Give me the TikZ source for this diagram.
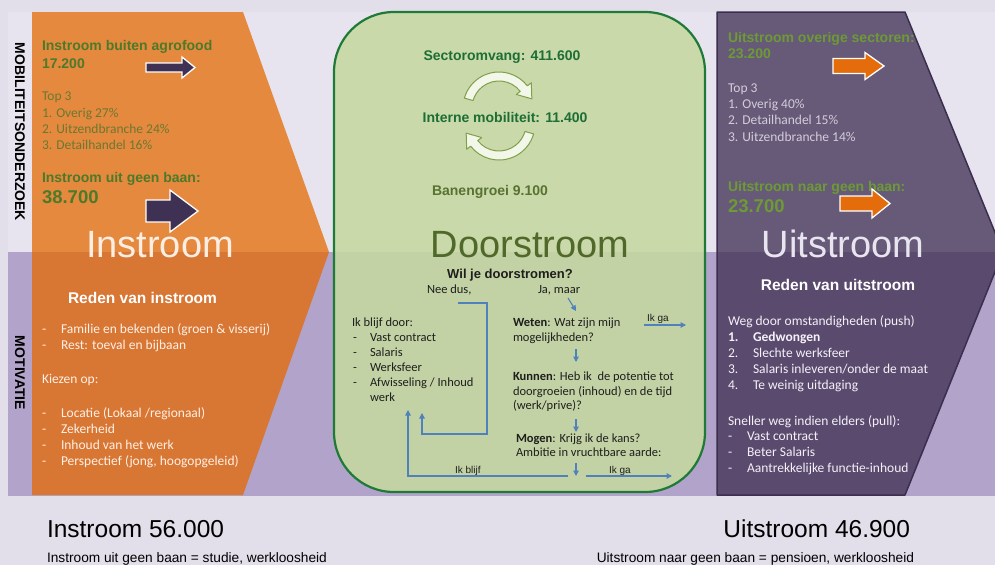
\documentclass[tikz,border=0pt]{standalone}
\usepackage{fontspec}
\setmainfont{Carlito}
\newfontfamily\arialfont{Liberation Sans}
\usetikzlibrary{arrows.meta,calc}

\definecolor{pagebg}{HTML}{E2DEEA}
\definecolor{upperband}{HTML}{E7E4EF}
\definecolor{lowerband}{HTML}{B1A3C9}
\definecolor{orangeup}{HTML}{E5893F}
\definecolor{orangelow}{HTML}{D87634}
\definecolor{greenfillup}{HTML}{C9D9AA}
\definecolor{greenfilllow}{HTML}{C3D2A4}
\definecolor{greenborder}{HTML}{1F7A37}
\definecolor{purpleup}{HTML}{665A78}
\definecolor{purplelow}{HTML}{5A4A6E}
\definecolor{purpleborder}{HTML}{3B2E4F}
\definecolor{arrowpurple}{HTML}{3F3153}
\definecolor{arroworange}{HTML}{E46C0A}
\definecolor{headgreen}{HTML}{4C7A29}
\definecolor{listolive}{HTML}{6A7830}
\definecolor{brightgreen}{HTML}{6D9A34}
\definecolor{paletext}{HTML}{D3CDDB}
\definecolor{darkgreen}{HTML}{1D6E35}
\definecolor{olivetext}{HTML}{50692A}
\definecolor{growthtext}{HTML}{587232}
\definecolor{flowblue}{HTML}{4F81BD}
\definecolor{flowink}{HTML}{1E1E1E}
\definecolor{turnedge}{HTML}{7FA048}
\definecolor{turnfill}{HTML}{F3F7EA}
\definecolor{warmwhite}{HTML}{FFF1E6}
\definecolor{coolwhite}{HTML}{F4F1F8}
\definecolor{bigwarm}{HTML}{FCEEE3}
\definecolor{bigcool}{HTML}{E9E5F0}

\begin{document}
\begin{tikzpicture}[x=1pt,y=-1pt,
  every node/.style={inner sep=0pt, outer sep=0pt},
  hd/.style={anchor=base west, font=\arialfont\bfseries\fontsize{14}{16}\selectfont},
  hdbig/.style={anchor=base west, font=\arialfont\bfseries\fontsize{18.5}{21}\selectfont},
  body/.style={anchor=base west, font=\fontsize{13.5}{16}\selectfont},
  flowtxt/.style={anchor=base west, font=\fontsize{12.5}{15}\selectfont, text=flowink},
  tinytxt/.style={anchor=base west, font=\arialfont\fontsize{10}{12}\selectfont, text=flowink},
  bigword/.style={anchor=base, font=\arialfont\fontsize{38}{42}\selectfont},
  subhd/.style={anchor=base, font=\arialfont\bfseries\fontsize{15.5}{18}\selectfont},
  vlabel/.style={rotate=-90, font=\arialfont\bfseries\fontsize{14}{16}\selectfont, text=black},
  total/.style={anchor=base west, font=\arialfont\fontsize{24.5}{28}\selectfont, text=black},
  note/.style={anchor=base west, font=\arialfont\fontsize{13.7}{16}\selectfont, text=black},
  flow/.style={draw=flowblue, line width=1.1pt, -{Triangle[length=5.5pt,width=5.5pt]}},
  blockarrow/.style={draw=white, line width=1.3pt, line join=miter},
  turnarrow/.style={draw=turnedge, fill=turnfill, line width=1pt, line join=round}
]
\useasboundingbox (0,0) rectangle (995,565);
\clip (0,0) rectangle (995,565);

% background and the two horizontal bands
\fill[pagebg] (0,0) rectangle (995,565);
\fill[upperband] (8,12) rectangle (995,252);
\fill[lowerband] (8,252) rectangle (995,496);

% inflow chevron
\fill[orangeup] (32,12) -- (243,12) -- (329,252) -- (32,252) -- cycle;
\fill[orangelow] (32,252) -- (329,252) -- (243,495) -- (32,495) -- cycle;

% outflow chevron
\fill[purpleup] (717,12) -- (905,12) -- (1003,252) -- (717,252) -- cycle;
\fill[purplelow] (717,252) -- (1003,252) -- (905,495) -- (717,495) -- cycle;
\draw[purpleborder, line width=1.5pt, line join=round]
  (717,12) -- (905,12) -- (1003,252) -- (905,495) -- (717,495) -- cycle;

% throughflow panel
\fill[greenfillup, rounded corners=60pt] (334,12) rectangle (705,492);
\begin{scope}
  \clip (0,252) rectangle (995,565);
  \fill[greenfilllow, rounded corners=60pt] (334,12) rectangle (705,492);
\end{scope}
\draw[greenborder, line width=2.2pt, rounded corners=60pt] (334,12) rectangle (705,492);

% side labels
\node[vlabel] (mobLbl) at (20,132) {MOBILITEITSONDERZOEK};
\node[vlabel] (motLbl) at (20,373) {MOTIVATIE};

% ---- inflow, figures
\node[hd, text=headgreen] (inOtherLbl) at (42,50) {Instroom buiten agrofood};
\node[hd, text=headgreen] (inOtherNum) at (42,68) {17.200};
\node[body, text=listolive] (inTop) at (42,100) {Top 3};
\node[body, text=listolive] (inTopA) at (42,117) {1. Overig 27\%};
\node[body, text=listolive] (inTopB) at (42,133) {2. Uitzendbranche 24\%};
\node[body, text=listolive] (inTopC) at (42,149) {3. Detailhandel 16\%};
\node[hd, text=headgreen] (inIdleLbl) at (42,182) {Instroom uit geen baan:};
\node[hdbig, text=headgreen] (inIdleNum) at (42,203) {38.700};

\path[blockarrow, fill=arrowpurple, shift={(146,67.5)}]
  (0,-4.5) -- (36,-4.5) -- (36,-10.5) -- (49,0) -- (36,10.5) -- (36,4.5) -- (0,4.5) -- cycle;
\path[blockarrow, fill=arrowpurple, shift={(146,211)}]
  (0,-11) -- (24,-11) -- (24,-21) -- (52,0) -- (24,21) -- (24,11) -- (0,11) -- cycle;

\node[bigword, text=bigwarm] (inWord) at (160,257) {Instroom};

% ---- inflow, motives
\node[subhd, anchor=base west, text=white] (inWhy) at (68,303) {Reden van instroom};
\begin{scope}[every node/.append style={body, text=warmwhite}]
  \node (inDashA) at (42,333) {-};  \node (inWhyA) at (61,333) {Familie en bekenden (groen \& visserij)};
  \node (inDashB) at (42,349) {-};  \node (inWhyB) at (61,349) {Rest: toeval en bijbaan};
  \node (inChoose) at (42,383) {Kiezen op:};
  \node (inDashC) at (42,417) {-};  \node (inWhyC) at (61,417) {Locatie (Lokaal /regionaal)};
  \node (inDashD) at (42,433) {-};  \node (inWhyD) at (61,433) {Zekerheid};
  \node (inDashE) at (42,449) {-};  \node (inWhyE) at (61,449) {Inhoud van het werk};
  \node (inDashF) at (42,465) {-};  \node (inWhyF) at (61,465) {Perspectief (jong, hoogopgeleid)};
\end{scope}

% ---- throughflow, figures
\node[hd, anchor=base, text=darkgreen] (sectorLbl) at (502,60) {Sectoromvang: 411.600};
\node[hd, anchor=base, text=darkgreen] (internalLbl) at (505,122) {Interne mobiliteit: 11.400};
\node[hd, anchor=base, text=growthtext] (growthLbl) at (490,195) {Banengroei 9.100};

\coordinate (turnTop) at (499,108);
\path[turnarrow]
  ($(turnTop)+(196:36)$) arc[start angle=196, end angle=322, radius=36]
  -- ($(turnTop)+(322:41)$) -- ($(turnTop)+(322:31.5)+(52:13)$)
  -- ($(turnTop)+(322:22)$) -- ($(turnTop)+(322:27)$)
  arc[start angle=322, end angle=196, radius=27] -- cycle;
\coordinate (turnLow) at (499,124);
\path[turnarrow]
  ($(turnLow)+(16:36)$) arc[start angle=16, end angle=142, radius=36]
  -- ($(turnLow)+(142:41)$) -- ($(turnLow)+(142:31.5)+(232:13)$)
  -- ($(turnLow)+(142:22)$) -- ($(turnLow)+(142:27)$)
  arc[start angle=142, end angle=16, radius=27] -- cycle;

\node[bigword, text=olivetext] (thruWord) at (530,257) {Doorstroom};

% ---- throughflow, decision flow
\node[anchor=base, font=\arialfont\bfseries\fontsize{13}{15}\selectfont, text=flowink] (askLbl) at (510,278) {Wil je doorstromen?};
\node[flowtxt] (noLbl) at (427,293) {Nee dus,};
\node[flowtxt] (yesLbl) at (538,293) {Ja, maar};

\node[flowtxt] (stayLbl) at (352,326) {Ik blijf door:};
\node[flowtxt] (stayDashA) at (353,341) {-}; \node[flowtxt] (stayA) at (370,341) {Vast contract};
\node[flowtxt] (stayDashB) at (353,356) {-}; \node[flowtxt] (stayB) at (370,356) {Salaris};
\node[flowtxt] (stayDashC) at (353,371) {-}; \node[flowtxt] (stayC) at (370,371) {Werksfeer};
\node[flowtxt] (stayDashD) at (353,386) {-}; \node[flowtxt] (stayD) at (370,386) {Afwisseling / Inhoud};
\node[flowtxt] (stayE) at (370,401) {werk};

\node[flowtxt] (knowA) at (513,326) {\textbf{Weten}: Wat zijn mijn};
\node[flowtxt] (knowB) at (513,341) {mogelijkheden?};
\node[flowtxt] (ableA) at (513,380) {\textbf{Kunnen}: Heb ik\ \ de potentie tot};
\node[flowtxt] (ableB) at (513,395) {doorgroeien (inhoud) en de tijd};
\node[flowtxt] (ableC) at (513,409) {(werk/prive)?};
\node[flowtxt] (mayA) at (516,442) {\textbf{Mogen}: Krijg ik de kans?};
\node[flowtxt] (mayB) at (516,456) {Ambitie in vruchtbare aarde:};

\node[tinytxt] (goTopLbl) at (647,321) {Ik ga};
\node[tinytxt] (stayLowLbl) at (455,473) {Ik blijf};
\node[tinytxt] (goLowLbl) at (609,473) {Ik ga};

\coordinate (yesTail) at (568,298);   \coordinate (knowHead) at (576,311);
\coordinate (knowTail) at (576,349);  \coordinate (ableHead) at (576,362);
\coordinate (ableTail) at (576,419);  \coordinate (mayHead) at (576,432);
\coordinate (mayTail) at (576,463);   \coordinate (fork) at (576,476);
\coordinate (goTopTail) at (644,325); \coordinate (goTopHead) at (686,325);
\coordinate (goLowTail) at (586,476); \coordinate (goLowHead) at (672,476);
\coordinate (stayLowTail) at (568,476); \coordinate (stayLowHead) at (408,410);
\coordinate (noTail) at (458,303);    \coordinate (noTurn) at (487,434);
\coordinate (noHead) at (422,413);

\draw[flow] (yesTail) -- (knowHead);
\draw[flow] (knowTail) -- (ableHead);
\draw[flow] (ableTail) -- (mayHead);
\draw[flow] (mayTail) -- (fork);
\draw[flow] (goTopTail) -- (goTopHead);
\draw[flow] (goLowTail) -- (goLowHead);
\draw[flow] (stayLowTail) -| (stayLowHead);
\draw[flow] (noTail) -| (noTurn) -| (noHead);

% ---- outflow, figures
\node[hd, text=brightgreen] (outOtherLbl) at (728,42) {Uitstroom overige sectoren:};
\node[hd, text=brightgreen] (outOtherNum) at (728,58) {23.200};
\node[body, text=paletext] (outTop) at (728,92) {Top 3};
\node[body, text=paletext] (outTopA) at (728,108) {1. Overig 40\%};
\node[body, text=paletext] (outTopB) at (728,124) {2. Detailhandel 15\%};
\node[body, text=paletext] (outTopC) at (728,141) {3. Uitzendbranche 14\%};
\node[hd, text=brightgreen] (outIdleLbl) at (728,191) {Uitstroom naar geen baan:};
\node[hdbig, text=brightgreen] (outIdleNum) at (728,212) {23.700};

\path[blockarrow, fill=arroworange, shift={(833,66)}]
  (0,-7.5) -- (32,-7.5) -- (32,-13.5) -- (51,0) -- (32,13.5) -- (32,7.5) -- (0,7.5) -- cycle;
\path[blockarrow, fill=arroworange, shift={(840,203.5)}]
  (0,-7.5) -- (32,-7.5) -- (32,-14.5) -- (50,0) -- (32,14.5) -- (32,7.5) -- (0,7.5) -- cycle;

\node[bigword, text=bigcool] (outWord) at (843,257) {Uitstroom};

% ---- outflow, motives
\node[subhd, text=white] (outWhy) at (838,290) {Reden van uitstroom};
\begin{scope}[every node/.append style={body, text=coolwhite}]
  \node (pushLbl) at (728,325) {Weg door omstandigheden (push)};
  \node[font=\bfseries\fontsize{13.5}{16}\selectfont] (pushNumA) at (728,341) {1.};
  \node[font=\bfseries\fontsize{13.5}{16}\selectfont] (pushA) at (753,341) {Gedwongen};
  \node (pushNumB) at (728,357) {2.}; \node (pushB) at (753,357) {Slechte werksfeer};
  \node (pushNumC) at (728,373) {3.}; \node (pushC) at (753,373) {Salaris inleveren/onder de maat};
  \node (pushNumD) at (728,389) {4.}; \node (pushD) at (753,389) {Te weinig uitdaging};
  \node (pullLbl) at (728,425) {Sneller weg indien elders (pull):};
  \node (pullDashA) at (728,440) {-}; \node (pullA) at (747,440) {Vast contract};
  \node (pullDashB) at (728,456) {-}; \node (pullB) at (747,456) {Beter Salaris};
  \node (pullDashC) at (728,472) {-}; \node (pullC) at (747,472) {Aantrekkelijke functie-inhoud};
\end{scope}

% ---- totals
\node[total] (inTotal) at (47,537) {Instroom 56.000};
\node[note] (inNote) at (47,562) {Instroom uit geen baan = studie, werkloosheid};
\node[total, anchor=base east] (outTotal) at (910,537) {Uitstroom 46.900};
\node[note, anchor=base east] (outNote) at (914,562) {Uitstroom naar geen baan = pensioen, werkloosheid};
\end{tikzpicture}
\end{document}
